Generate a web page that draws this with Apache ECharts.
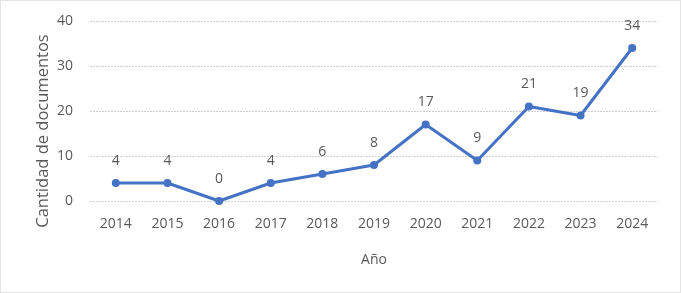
<!DOCTYPE html>
<html><head><meta charset="utf-8">
<script src="https://cdn.jsdelivr.net/npm/echarts@6/dist/echarts.min.js"></script>
<style>html,body{margin:0;padding:0;background:#fff}#c{width:681px;height:293px}</style>
</head><body><div id="c"></div>
<script>
const categories = ['2014','2015','2016','2017','2018','2019','2020','2021','2022','2023','2024'];
const values = [4,4,0,4,6,8,17,9,21,19,34];
const yTicks = [0,10,20,30,40];
const xTitle = 'Año';
const yTitle = 'Cantidad de documentos';

const font = '"Open Sans", "Noto Sans", sans-serif';
const txt = '#595959';
const chart = echarts.init(document.getElementById('c'), null, {renderer:'canvas'});
chart.setOption({
  animation:false,
  backgroundColor:'#fff',
  graphic:[
    {type:'rect',shape:{x:0.5,y:0.5,width:680,height:292},style:{fill:'none',stroke:'#c8c8c8',lineWidth:1,lineDash:[1,1]},z:-1},
    {type:'text',x:43,y:131,rotation:Math.PI/2,style:{text:yTitle,fill:txt,font:'16.5px '+font,align:'center',verticalAlign:'middle'}}
  ],
  grid:{left:90,right:23,top:21,bottom:92},
  xAxis:{type:'category',data:categories,boundaryGap:true,
    name:xTitle,nameLocation:'middle',nameGap:52,
    nameTextStyle:{color:txt,fontSize:14,fontFamily:font},
    axisLine:{show:false},axisTick:{show:false},
    axisLabel:{color:txt,fontSize:14,fontFamily:font,margin:16}},
  yAxis:{type:'value',min:yTicks[0],max:yTicks[yTicks.length-1],interval:10,
    axisLine:{show:false},axisTick:{show:false},
    axisLabel:{color:txt,fontSize:14,fontFamily:font,margin:17},
    splitLine:{lineStyle:{color:'#cfcfcf',width:1,type:[2,1]}}},
  series:[{type:'line',data:values,
    lineStyle:{color:'#4472C4',width:3},
    itemStyle:{color:'#4472C4'},
    symbol:'circle',symbolSize:8,
    label:{show:true,position:'top',distance:11,color:txt,fontSize:14,fontFamily:font}}]
});
</script></body></html>
